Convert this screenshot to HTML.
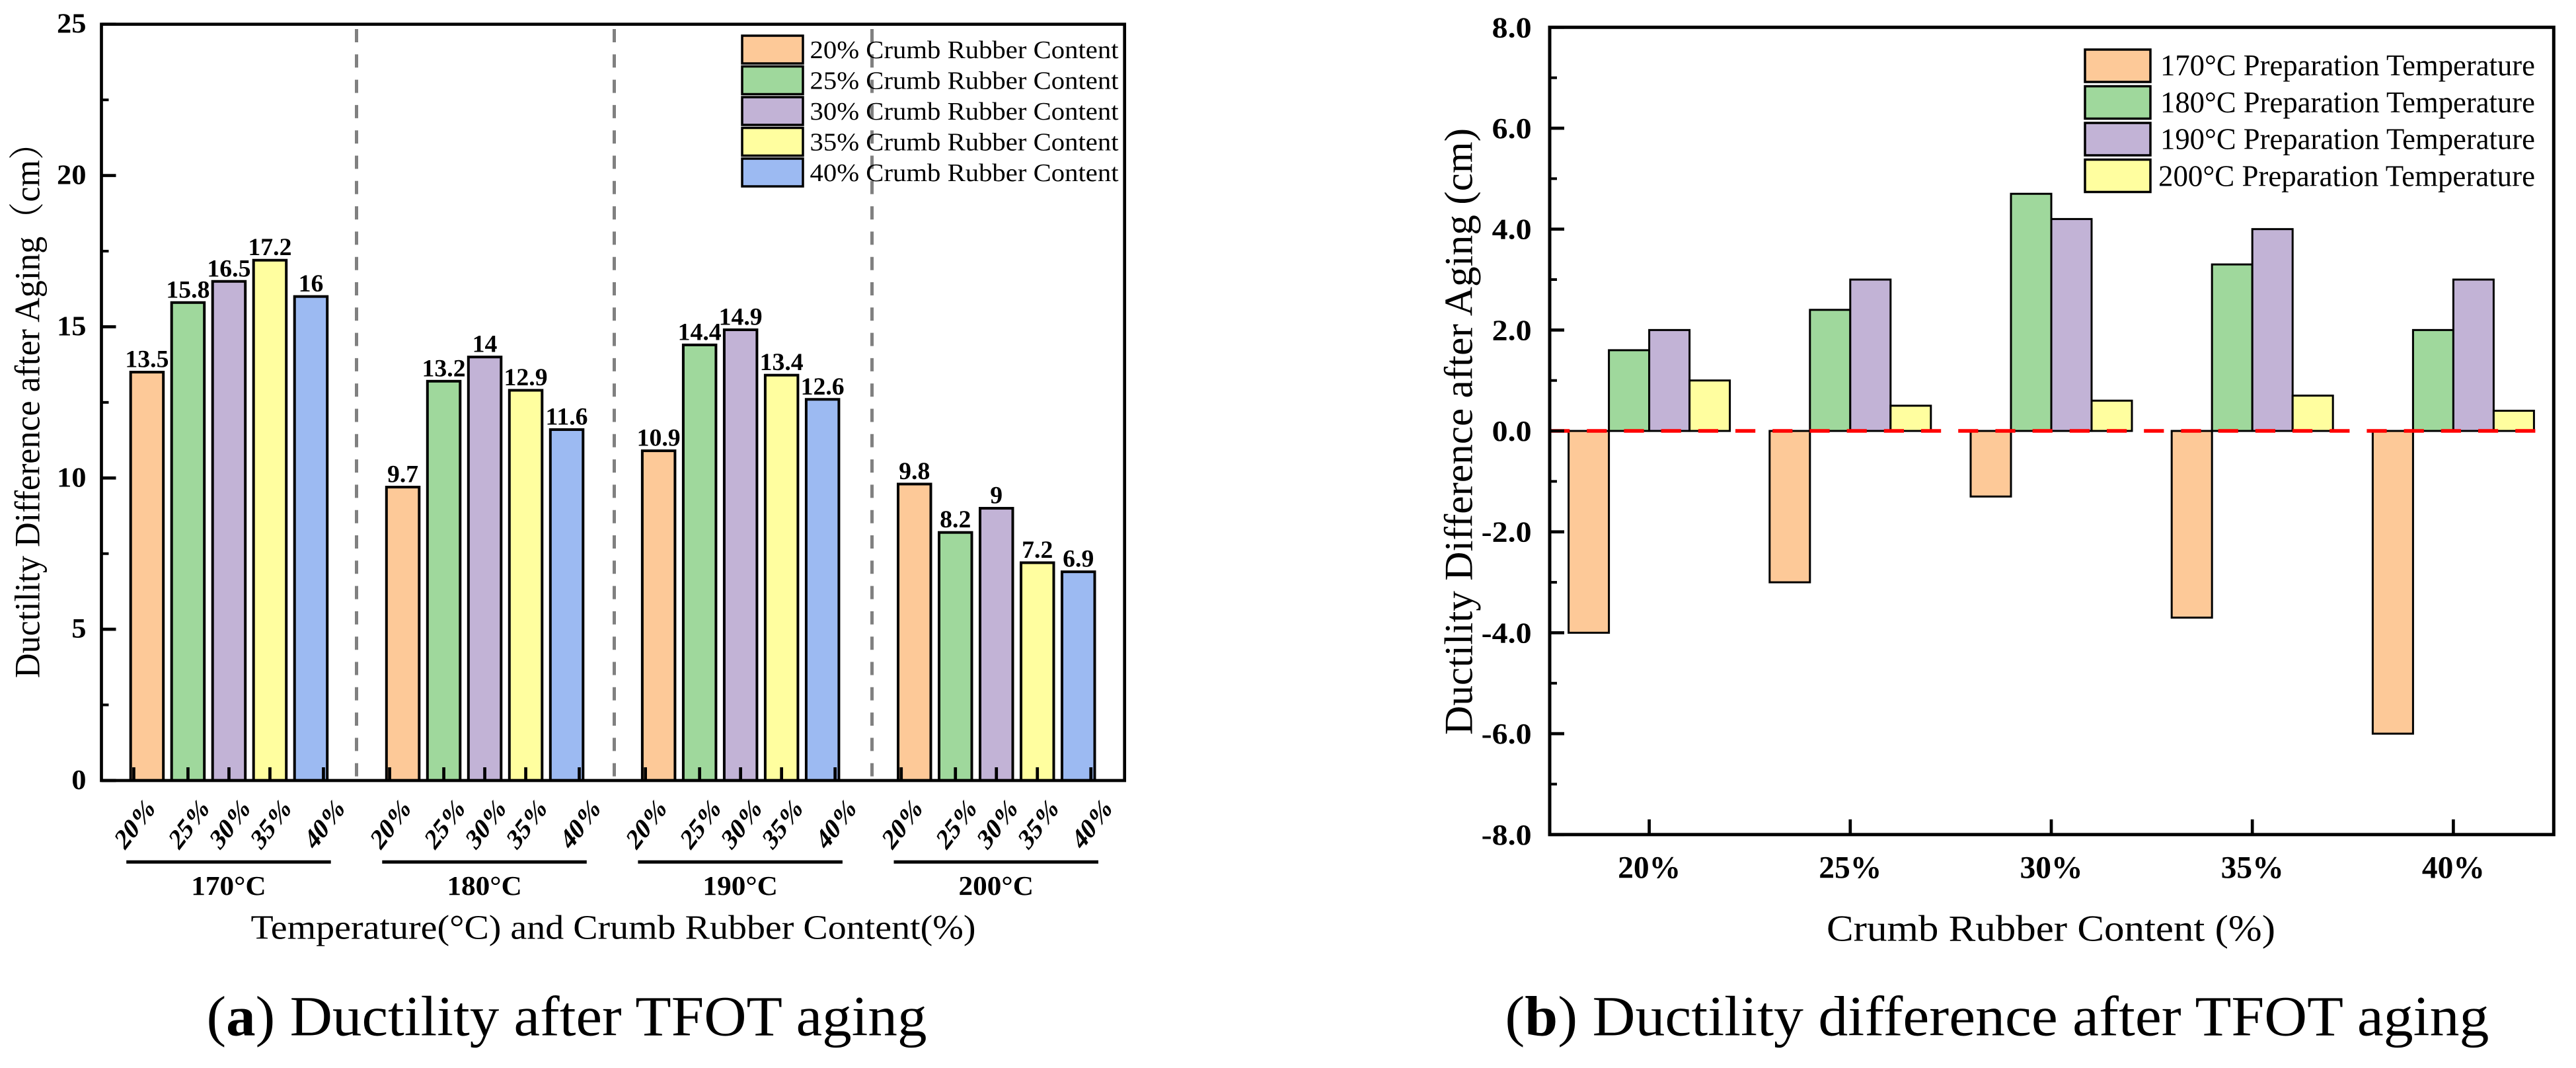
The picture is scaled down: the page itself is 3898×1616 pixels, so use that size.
<!DOCTYPE html>
<html lang="en">
<head>
<meta charset="utf-8">
<title>Ductility after TFOT aging</title>
<style>
html,body{margin:0;padding:0;background:#fff;}
svg{display:block;}
text{font-family:"Liberation Serif","Noto Serif CJK SC",serif;fill:#000;}
</style>
</head>
<body>
<svg id="fig" xmlns="http://www.w3.org/2000/svg" width="3898" height="1616" viewBox="0 0 3898 1616">
  <rect width="3898" height="1616" fill="#fff"/>

  <g id="chart-a"></g>
  <g id="chart-b"></g>

  <!-- Chart A static text -->
  <text transform="translate(59.5,1026) rotate(-90)" font-size="54" textLength="836" lengthAdjust="spacingAndGlyphs">Ductility Difference after Aging（cm）</text>
  <text x="379.5" y="1420.7" font-size="52" textLength="1097" lengthAdjust="spacingAndGlyphs">Temperature(°C) and Crumb Rubber Content(%)</text>
  <text x="312.5" y="1566.7" font-size="86" textLength="1090" lengthAdjust="spacingAndGlyphs">(<tspan font-weight="bold">a</tspan>) Ductility after TFOT aging</text>

  <g>
    <rect x="1123" y="54" width="92" height="42" fill="#FDC998" stroke="#000" stroke-width="3.5"/>
    <text x="1225.5" y="88" font-size="38" textLength="467" lengthAdjust="spacingAndGlyphs">20% Crumb Rubber Content</text>
    <rect x="1123" y="100.5" width="92" height="42" fill="#9FD89C" stroke="#000" stroke-width="3.5"/>
    <text x="1225.5" y="134.5" font-size="38" textLength="467" lengthAdjust="spacingAndGlyphs">25% Crumb Rubber Content</text>
    <rect x="1123" y="147" width="92" height="42" fill="#C2B3D6" stroke="#000" stroke-width="3.5"/>
    <text x="1225.5" y="181" font-size="38" textLength="467" lengthAdjust="spacingAndGlyphs">30% Crumb Rubber Content</text>
    <rect x="1123" y="193.5" width="92" height="42" fill="#FFFE9F" stroke="#000" stroke-width="3.5"/>
    <text x="1225.5" y="227.5" font-size="38" textLength="467" lengthAdjust="spacingAndGlyphs">35% Crumb Rubber Content</text>
    <rect x="1123" y="240" width="92" height="42" fill="#9CBAF2" stroke="#000" stroke-width="3.5"/>
    <text x="1225.5" y="274" font-size="38" textLength="467" lengthAdjust="spacingAndGlyphs">40% Crumb Rubber Content</text>
  </g>

  <!-- Chart B static text -->
  <text transform="translate(2227.5,1112) rotate(-90)" font-size="60" textLength="918" lengthAdjust="spacingAndGlyphs">Ductility Difference after Aging (cm)</text>
  <text x="2764" y="1423.3" font-size="56" textLength="679" lengthAdjust="spacingAndGlyphs">Crumb Rubber Content (%)</text>
  <text x="2277.4" y="1566.7" font-size="86" textLength="1489" lengthAdjust="spacingAndGlyphs">(<tspan font-weight="bold">b</tspan>) Ductility difference after TFOT aging</text>

  <g>
    <rect x="3155" y="75" width="99" height="49" fill="#FDC998" stroke="#000" stroke-width="3.5"/>
    <text x="3269" y="114" font-size="45" textLength="567" lengthAdjust="spacingAndGlyphs">170°C Preparation Temperature</text>
    <rect x="3155" y="130.5" width="99" height="49" fill="#9FD89C" stroke="#000" stroke-width="3.5"/>
    <text x="3269" y="170" font-size="45" textLength="567" lengthAdjust="spacingAndGlyphs">180°C Preparation Temperature</text>
    <rect x="3155" y="186" width="99" height="49" fill="#C2B3D6" stroke="#000" stroke-width="3.5"/>
    <text x="3269" y="225.7" font-size="45" textLength="567" lengthAdjust="spacingAndGlyphs">190°C Preparation Temperature</text>
    <rect x="3155" y="241.5" width="99" height="49" fill="#FFFE9F" stroke="#000" stroke-width="3.5"/>
    <text x="3266" y="281.7" font-size="45" textLength="570" lengthAdjust="spacingAndGlyphs">200°C Preparation Temperature</text>
  </g>
</svg>

<script>
// ---------- Chart A data ----------
const aTemperatures = ['170°C', '180°C', '190°C', '200°C'];
const aContents = ['20%', '25%', '30%', '35%', '40%'];
const aYTicks = [0, 5, 10, 15, 20, 25];
const aYMinorTicks = [2.5, 7.5, 12.5, 17.5, 22.5];
const aCrumb20 = [13.5, 9.7, 10.9, 9.8];
const aCrumb25 = [15.8, 13.2, 14.4, 8.2];
const aCrumb30 = [16.5, 14, 14.9, 9];
const aCrumb35 = [17.2, 12.9, 13.4, 7.2];
const aCrumb40 = [16, 11.6, 12.6, 6.9];

// ---------- Chart B data ----------
const bContents = ['20%', '25%', '30%', '35%', '40%'];
const bYTicks = [8, 6, 4, 2, 0, -2, -4, -6, -8];
const bYMinorTicks = [7, 5, 3, 1, -1, -3, -5, -7];
const bTemp170 = [-4, -3, -1.3, -3.7, -6];
const bTemp180 = [1.6, 2.4, 4.7, 3.3, 2];
const bTemp190 = [2, 3, 4.2, 4, 3];
const bTemp200 = [1, 0.5, 0.6, 0.7, 0.4];

const NS = 'http://www.w3.org/2000/svg';
const seriesColors = ['#FDC998', '#9FD89C', '#C2B3D6', '#FFFE9F', '#9CBAF2'];

function mk(parent, tag, attrs, name) {
  const el = document.createElementNS(NS, tag);
  for (const k in attrs) el.setAttribute(k, attrs[k]);
  
  
  parent.appendChild(el);
  return el;
}
function line(parent, x1, y1, x2, y2, w, name, extra) {
  return mk(parent, 'line', Object.assign({x1, y1, x2, y2, stroke: '#000', 'stroke-width': w}, extra || {}), name);
}
// text with explicit anchoring and a horizontal stretch factor sx
function label(parent, str, attrs, anchor, sx, name) {
  const el = mk(parent, 'text', attrs, name);
  el.textContent = str;
  const w = el.getComputedTextLength() * sx;
  const x = attrs.x - (anchor === 'middle' ? w / 2 : anchor === 'end' ? w : 0);
  el.setAttribute('x', x.toFixed(2));
  if (sx !== 1) {
    el.setAttribute('textLength', w.toFixed(2));
    el.setAttribute('lengthAdjust', 'spacingAndGlyphs');
  }
  return el;
}

// ---------- Chart A ----------
(function () {
  const g = document.getElementById('chart-a');
  const L = 153.5, R = 1701.7, T = 36.7, B = 1181;
  const yOf = v => B - (v / 25) * (B - T);
  const groupLeft = t => 197.7 + t * 387.1;
  const barLeft = (t, s) => groupLeft(t) + s * 62;
  const barW = 49.5;
  const barMid = (t, s) => barLeft(t, s) + barW / 2;
  const tickX = (t, s) => barMid(t, s) + (s === 0 ? -20 : s === 4 ? 19 : 0);
  const allSeries = [aCrumb20, aCrumb25, aCrumb30, aCrumb35, aCrumb40];

  // dashed separators
  aTemperatures.slice(1).forEach((temp, i) => {
    const x = 539.5 + i * 390;
    line(g, x, 44, x, 1180, 5, 'group-separator-' + (i + 1), {stroke: '#808080', 'stroke-dasharray': '20 18.3'});
  });

  // bars and value labels
  allSeries.forEach((values, s) => {
    values.forEach((v, t) => {
      const y = yOf(v);
      mk(g, 'rect', {x: barLeft(t, s), y: y, width: barW, height: B - y, fill: seriesColors[s], stroke: '#000', 'stroke-width': 4},
        'bar-' + aTemperatures[t].replace('°C', 'c') + '-' + aContents[s].replace('%', 'pct'));
      label(g, String(v), {x: barMid(t, s), y: y - 7.5, 'font-size': 37, 'font-weight': 'bold'}, 'middle', 1.02,
        'value-label-' + aTemperatures[t].replace('°C', 'c') + '-' + aContents[s].replace('%', 'pct'));
    });
  });

  // x ticks and labels
  aTemperatures.forEach((temp, t) => {
    aContents.forEach((c, s) => {
      const x = tickX(t, s);
      line(g, x, B - 20, x, B, 4.7, 'x-tick');
      const cx = x + 2, cy = 1245.5;
      label(g, c, {x: 0, y: 14, transform: 'translate(' + cx + ',' + cy + ') scale(.82,1.08) rotate(-45)', 'font-size': 42, 'font-weight': 'bold'}, 'middle', 1, 'x-tick-label');
    });
    const x1 = groupLeft(t) - 6.5, x2 = groupLeft(t) + 303;
    line(g, x1, 1304.3, x2, 1304.3, 5, 'group-bracket-' + temp.replace('°C', 'c'));
    label(g, temp, {x: (x1 + x2) / 2, y: 1354, 'font-size': 41, 'font-weight': 'bold'}, 'middle', 1.055, 'group-label-' + temp.replace('°C', 'c'));
  });

  // y ticks
  aYTicks.forEach(v => {
    const y = yOf(v);
    line(g, L, y, L + 22, y, 4.7, 'y-tick-' + v);
    label(g, String(v), {x: 130.5, y: y + 13, 'font-size': 42, 'font-weight': 'bold'}, 'end', 1.06, 'y-tick-label-' + v);
  });
  aYMinorTicks.forEach(v => {
    const y = yOf(v);
    line(g, L, y, L + 11, y, 4, 'y-minor-tick');
  });

  // frame
  mk(g, 'rect', {x: L, y: T, width: R - L, height: B - T, fill: 'none', stroke: '#000', 'stroke-width': 4.7}, 'left-plot-frame');
})();

// ---------- Chart B ----------
(function () {
  const g = document.getElementById('chart-b');
  const L = 2345, R = 3864.3, T = 41.3, B = 1262.8;
  const yOf = v => T + ((8 - v) / 16) * (B - T);
  const groupMid = i => 2495.6 + i * 304.2;
  const barW = 61;
  const barLeft = (i, s) => groupMid(i) + (s - 2) * barW;
  const allSeries = [bTemp170, bTemp180, bTemp190, bTemp200];
  const names = ['170c', '180c', '190c', '200c'];

  allSeries.forEach((values, s) => {
    values.forEach((v, i) => {
      const y0 = yOf(0), y = yOf(v);
      mk(g, 'rect', {x: barLeft(i, s), y: Math.min(y, y0), width: barW, height: Math.abs(y - y0), fill: seriesColors[s], stroke: '#000', 'stroke-width': 3},
        'bar-' + bContents[i].replace('%', 'pct') + '-' + names[s]);
    });
  });

  // zero reference line
  line(g, L, yOf(0), 3840, yOf(0), 5.5, 'zero-reference-line', {stroke: '#FF0000', 'stroke-dasharray': '30.2 26'});

  // y ticks
  bYTicks.forEach(v => {
    const y = yOf(v);
    line(g, L, y, L + 22, y, 4.7, 'y-tick');
    label(g, v.toFixed(1), {x: 2317.6, y: y + 15, 'font-size': 44, 'font-weight': 'bold'}, 'end', 1.09, 'y-tick-label');
  });
  bYMinorTicks.forEach(v => {
    const y = yOf(v);
    line(g, L, y, L + 11, y, 4, 'y-minor-tick');
  });

  // x ticks
  bContents.forEach((c, i) => {
    const x = groupMid(i);
    line(g, x, B - 23, x, B, 4.7, 'x-tick');
    label(g, c, {x: x, y: 1328.3, 'font-size': 48, 'font-weight': 'bold'}, 'middle', 0.99, 'x-tick-label');
  });

  // frame
  mk(g, 'rect', {x: L, y: T, width: R - L, height: B - T, fill: 'none', stroke: '#000', 'stroke-width': 5}, 'right-plot-frame');
})();
</script>
</body>
</html>
